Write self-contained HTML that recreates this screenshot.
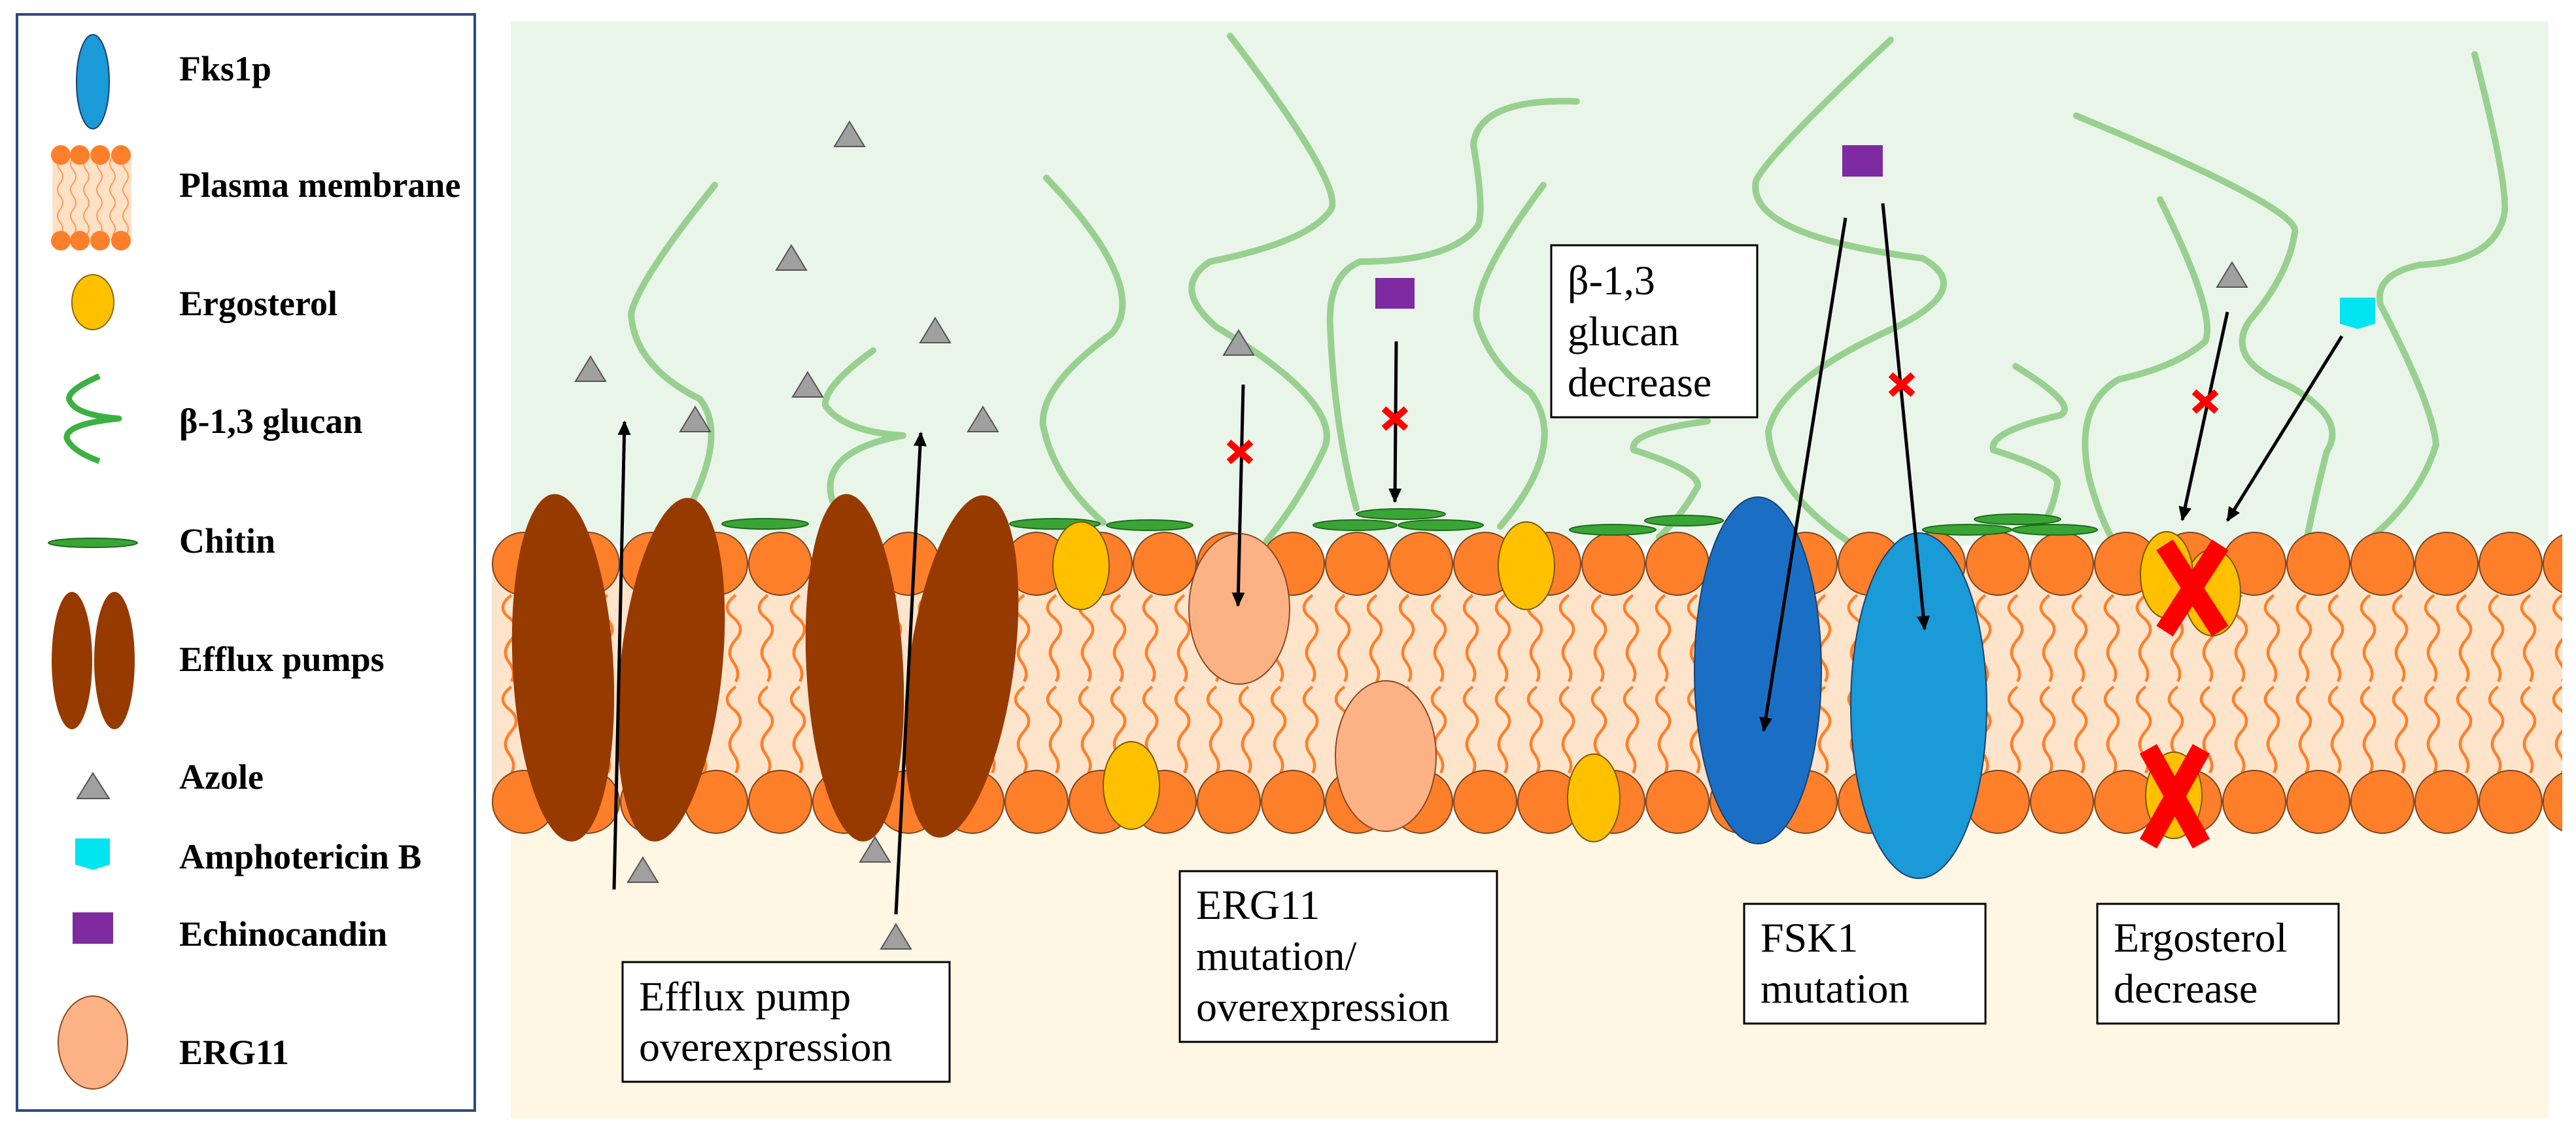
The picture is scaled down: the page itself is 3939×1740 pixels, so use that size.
<!DOCTYPE html>
<html><head><meta charset="utf-8"><style>
html,body{margin:0;padding:0;background:#fff;}
svg{display:block;}
text{font-family:"Liberation Serif",serif;}
</style></head><body>
<svg width="3939" height="1740" viewBox="0 0 3939 1740" xmlns="http://www.w3.org/2000/svg">
<defs>
<pattern id="heads" x="752" y="0" width="98" height="1740" patternUnits="userSpaceOnUse">
<circle cx="49" cy="862" r="48" fill="#fd7f2a" stroke="#7a4520" stroke-width="2"/>
<circle cx="49" cy="1226" r="48" fill="#fd7f2a" stroke="#7a4520" stroke-width="2"/>
</pattern>
<pattern id="tails" x="752" y="905" width="49" height="140" patternUnits="userSpaceOnUse">
<path d="M30 5 q-24 18 -4 34 t4 34 t-4 34 t4 30" fill="none" stroke="#fe7f2a" stroke-width="4.5"/>
</pattern>
<marker id="ah2" markerWidth="24" markerHeight="24" refX="20" refY="12" orient="auto" markerUnits="userSpaceOnUse" viewBox="0 0 24 24">
<path d="M0 2 L22 12 L0 22 z" fill="#000"/>
</marker>
<g id="tri"><path d="M-23 19 L0 -19 L23 19 Z" fill="#a0a0a0" stroke="#555" stroke-width="2"/></g>
<g id="sx"><path d="M-17 -15 L17 15 M17 -15 L-17 15" stroke="#f00" stroke-width="10"/></g>
</defs>

<!-- Legend -->
<rect x="26" y="22" width="700" height="1676" fill="#fff" stroke="#2f4b7c" stroke-width="4"/>
<ellipse cx="142" cy="125" rx="25" ry="72" fill="#1a9ad6" stroke="#1a3f70" stroke-width="2"/>
<rect x="80" y="235" width="121" height="135" fill="#ffe1c6"/>
<g stroke="#fe9a5a" stroke-width="2" fill="none">
<path d="M92 240 q-8 10 0 20 t0 20 t0 20 t0 20 t0 20 t0 20"/><path d="M112 240 q-8 10 0 20 t0 20 t0 20 t0 20 t0 20 t0 20"/><path d="M132 240 q-8 10 0 20 t0 20 t0 20 t0 20 t0 20 t0 20"/><path d="M152 240 q-8 10 0 20 t0 20 t0 20 t0 20 t0 20 t0 20"/><path d="M172 240 q-8 10 0 20 t0 20 t0 20 t0 20 t0 20 t0 20"/><path d="M192 240 q-8 10 0 20 t0 20 t0 20 t0 20 t0 20 t0 20"/>
</g>
<g fill="#fd7f2a"><ellipse cx="93" cy="237" rx="15" ry="15"/><ellipse cx="122" cy="237" rx="15" ry="15"/><ellipse cx="153" cy="237" rx="15" ry="15"/><ellipse cx="185" cy="237" rx="15" ry="15"/>
<ellipse cx="93" cy="368" rx="15" ry="15"/><ellipse cx="122" cy="368" rx="15" ry="15"/><ellipse cx="153" cy="368" rx="15" ry="15"/><ellipse cx="185" cy="368" rx="15" ry="15"/></g>
<ellipse cx="142" cy="462" rx="32" ry="42" fill="#ffc000" stroke="#8a6a00" stroke-width="2"/>
<path d="M152 575 Q95 600 108 615 Q120 635 182 640 Q100 648 102 670 Q110 690 152 705" fill="none" stroke="#3cb043" stroke-width="9" stroke-linejoin="round"/>
<ellipse cx="142" cy="830" rx="68" ry="7" fill="#3aa535" stroke="#1d6b1d" stroke-width="2"/>
<ellipse cx="110" cy="1010" rx="31" ry="105" fill="#963a00"/>
<ellipse cx="175" cy="1010" rx="31" ry="105" fill="#963a00"/>
<path d="M118 1221 L142 1182 L167 1221 Z" fill="#a0a0a0" stroke="#555" stroke-width="2"/>
<path d="M115 1282 H168 V1322 L142 1330 L115 1322 Z" fill="#00e5ef"/>
<rect x="111" y="1395" width="62" height="48" fill="#7e2aa0"/>
<ellipse cx="142" cy="1594" rx="53" ry="71" fill="#fdb286" stroke="#8a4a20" stroke-width="2"/>
<g font-weight="bold" font-size="54" fill="#000">
<text x="274" y="123">Fks1p</text>
<text x="274" y="301">Plasma membrane</text>
<text x="274" y="482">Ergosterol</text>
<text x="274" y="662">β-1,3 glucan</text>
<text x="274" y="845">Chitin</text>
<text x="274" y="1026">Efflux pumps</text>
<text x="274" y="1206">Azole</text>
<text x="274" y="1328">Amphotericin B</text>
<text x="274" y="1446">Echinocandin</text>
<text x="274" y="1627">ERG11</text>
</g>

<!-- Main panel background -->
<rect x="781" y="33" width="3116" height="800" fill="#eaf5ea"/>
<rect x="781" y="1250" width="3116" height="460" fill="#fff6e3"/>
<rect x="752" y="860" width="3166" height="380" fill="#ffe4cc"/>
<rect x="752" y="905" width="3166" height="140" fill="url(#tails)"/>
<rect x="752" y="1042" width="3166" height="140" fill="url(#tails)"/>

<!-- glucan strands -->
<g fill="none" stroke="#98d090" stroke-width="10" stroke-linejoin="round" stroke-linecap="round">
<path d="M1093 283 Q975 430 965 480 Q970 560 1070 610 Q1110 660 1059 766"/>
<path d="M1335 536 Q1260 590 1262 620 Q1290 660 1381 666 Q1250 690 1273 766"/>
<path d="M1600 272 Q1760 440 1700 510 Q1590 590 1595 650 Q1610 730 1687 799"/>
<path d="M1881 55 Q2060 290 2034 322 Q2000 370 1850 400 Q1790 440 1860 500 Q2060 620 2023 690 Q1990 760 1937 827"/>
<path d="M2411 155 Q2260 150 2253 222 Q2270 320 2260 345 Q2220 400 2080 400 Q2030 420 2034 500 Q2040 650 2074 777"/>
<path d="M2360 283 Q2250 430 2258 490 Q2280 560 2340 600 Q2400 680 2294 805"/>
<path d="M2611 644 Q2490 660 2498 688 Q2600 720 2596 744 Q2570 790 2537 821"/>
<path d="M2891 61 Q2700 240 2685 277 Q2670 360 2940 395 Q3020 440 2900 500 Q2720 580 2704 660 Q2710 750 2832 832"/>
<path d="M3082 560 Q3180 620 3150 635 Q3040 660 3048 688 Q3150 720 3146 740 Q3140 775 3126 799"/>
<path d="M3303 305 Q3390 480 3372 522 Q3330 560 3240 580 Q3170 620 3195 733 Q3210 790 3234 832"/>
<path d="M3175 177 Q3520 320 3509 355 Q3500 420 3440 490 Q3400 550 3500 590 Q3590 640 3558 690 Q3540 760 3528 821"/>
<path d="M3784 83 Q3840 300 3828 333 Q3810 400 3700 405 Q3630 420 3640 466 Q3720 620 3725 680 Q3700 760 3627 821"/>
</g>

<!-- heads -->
<rect x="752" y="810" width="3166" height="470" fill="url(#heads)"/>

<!-- chitin -->
<g fill="#3aa535" stroke="#1d6b1d" stroke-width="2">
<ellipse cx="1170" cy="801" rx="66" ry="8"/>
<ellipse cx="1613" cy="801" rx="69" ry="8"/>
<ellipse cx="1758" cy="803" rx="66" ry="8"/>
<ellipse cx="2072" cy="803" rx="64" ry="8"/>
<ellipse cx="2203" cy="803" rx="65" ry="8"/>
<ellipse cx="2142" cy="786" rx="68" ry="8"/>
<ellipse cx="2466" cy="810" rx="66" ry="8"/>
<ellipse cx="2575" cy="796" rx="60" ry="8"/>
<ellipse cx="3008" cy="810" rx="68" ry="8"/>
<ellipse cx="3142" cy="810" rx="65" ry="8"/>
<ellipse cx="3085" cy="794" rx="66" ry="8"/>
</g>

<!-- ergosterol -->
<g fill="#ffc000" stroke="#7a5a00" stroke-width="2">
<ellipse cx="1653" cy="865" rx="43" ry="67"/>
<ellipse cx="1730" cy="1201" rx="43" ry="67"/>
<ellipse cx="2334" cy="865" rx="43" ry="67"/>
<ellipse cx="2437" cy="1220" rx="40" ry="67"/>
<ellipse cx="3383" cy="906" rx="43" ry="66"/>
<ellipse cx="3313" cy="879" rx="40" ry="66"/>
<ellipse cx="3324" cy="1216" rx="43" ry="66"/>
</g>
<g stroke="#f00" stroke-width="30">
<path d="M3310 833 L3395 965 M3395 833 L3310 965"/>
<path d="M3285 1145 L3366 1290 M3366 1145 L3285 1290"/>
</g>

<!-- ERG11 -->
<g fill="#fdb286" stroke="#8a4a20" stroke-width="2">
<ellipse cx="1895" cy="931" rx="77" ry="115"/>
<ellipse cx="2119" cy="1156" rx="77" ry="115"/>
</g>

<!-- efflux pumps -->
<g fill="#963a00">
<ellipse cx="861" cy="1021" rx="77" ry="266" transform="rotate(-3 861 1021)"/>
<ellipse cx="1026" cy="1024" rx="78" ry="264" transform="rotate(6 1026 1024)"/>
<ellipse cx="1307" cy="1021" rx="74" ry="266" transform="rotate(-3 1307 1021)"/>
<ellipse cx="1470" cy="1019" rx="80" ry="264" transform="rotate(8 1470 1019)"/>
</g>

<!-- Fks1p -->
<ellipse cx="2688" cy="1025" rx="97" ry="265" fill="#1a6fc4" stroke="#1a3f70" stroke-width="2"/>
<ellipse cx="2934" cy="1079" rx="104" ry="264" fill="#1a9ad6" stroke="#1a3f70" stroke-width="2"/>

<!-- triangles -->
<use href="#tri" x="1299" y="205"/><use href="#tri" x="1210" y="394"/><use href="#tri" x="1430" y="505"/>
<use href="#tri" x="903" y="564"/><use href="#tri" x="1235" y="588"/><use href="#tri" x="1063" y="641"/>
<use href="#tri" x="1503" y="641"/><use href="#tri" x="1894" y="524"/><use href="#tri" x="983" y="1330"/>
<use href="#tri" x="1338" y="1299"/><use href="#tri" x="1370" y="1432"/><use href="#tri" x="3413" y="420"/>

<!-- drugs -->
<rect x="2103" y="425" width="60" height="47" fill="#7e2aa0"/>
<rect x="2817" y="222" width="62" height="48" fill="#7e2aa0"/>
<path d="M3578 455 H3632 V495 L3605 503 L3578 495 Z" fill="#00e5ef"/>

<!-- arrows -->
<g stroke="#000" stroke-width="5" fill="none">
<line x1="939" y1="1360" x2="955" y2="645" marker-end="url(#ah2)"/>
<line x1="1370" y1="1398" x2="1408" y2="662" marker-end="url(#ah2)"/>
<line x1="1901" y1="588" x2="1893" y2="926" marker-end="url(#ah2)"/>
<line x1="2135" y1="522" x2="2133" y2="767" marker-end="url(#ah2)"/>
<line x1="2822" y1="333" x2="2697" y2="1117" marker-end="url(#ah2)"/>
<line x1="2879" y1="311" x2="2943" y2="962" marker-end="url(#ah2)"/>
<line x1="3406" y1="477" x2="3337" y2="795" marker-end="url(#ah2)"/>
<line x1="3581" y1="514" x2="3406" y2="796" marker-end="url(#ah2)"/>
</g>
<use href="#sx" x="1896" y="691"/><use href="#sx" x="2133" y="640"/>
<use href="#sx" x="2908" y="588"/><use href="#sx" x="3372" y="614"/>

<!-- labels -->
<g fill="#fff" stroke="#000" stroke-width="3">
<rect x="952" y="1471" width="500" height="183"/>
<rect x="1804" y="1332" width="485" height="261"/>
<rect x="2372" y="375" width="315" height="263"/>
<rect x="2667" y="1382" width="369" height="183"/>
<rect x="3207" y="1382" width="369" height="183"/>
</g>
<g font-size="64" fill="#000">
<text x="977" y="1545">Efflux pump</text>
<text x="977" y="1622">overexpression</text>
<text x="1829" y="1405">ERG11</text>
<text x="1829" y="1483">mutation/</text>
<text x="1829" y="1561">overexpression</text>
<text x="2397" y="450">β-1,3</text>
<text x="2397" y="528">glucan</text>
<text x="2397" y="606">decrease</text>
<text x="2692" y="1455">FSK1</text>
<text x="2692" y="1533">mutation</text>
<text x="3232" y="1455">Ergosterol</text>
<text x="3232" y="1533">decrease</text>
</g>
</svg>
</body></html>
